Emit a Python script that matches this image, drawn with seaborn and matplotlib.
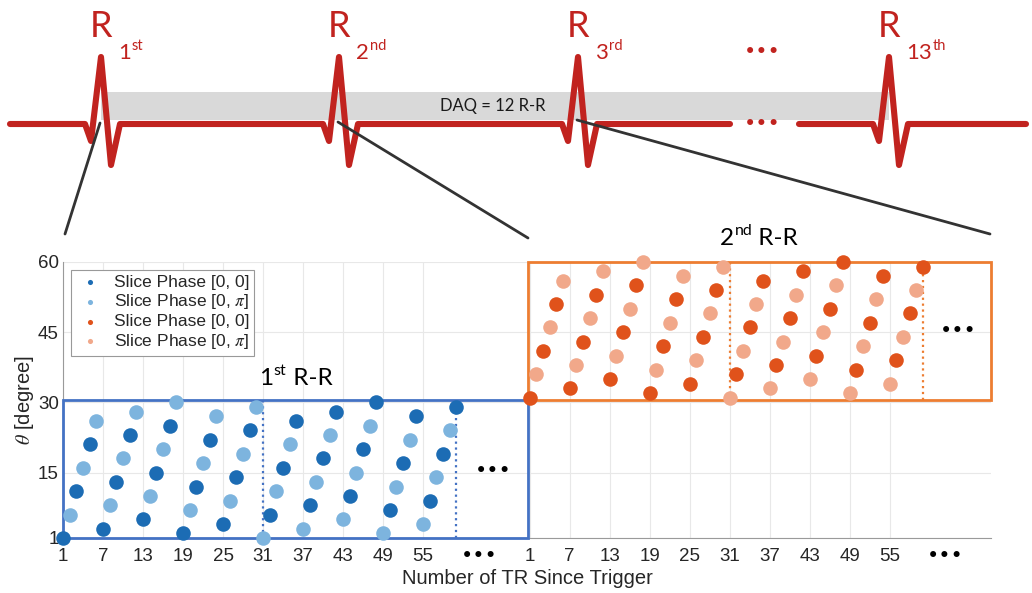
import numpy as np
import pandas as pd
import matplotlib
matplotlib.use("Agg")
import matplotlib.pyplot as plt
import seaborn as sns
from matplotlib.patches import Rectangle

# ---- data ----
tr_index = list(range(1, 61))
# slice angle theta (degree) for each TR in the 1st R-R
theta_1st = [1, 6, 11, 16, 21, 26, 3, 8, 13, 18, 23, 28, 5, 10, 15, 20, 25, 30,
             2, 7, 12, 17, 22, 27, 4, 9, 14, 19, 24, 29,
             1, 6, 11, 16, 21, 26, 3, 8, 13, 18, 23, 28, 5, 10, 15, 20, 25, 30,
             2, 7, 12, 17, 22, 27, 4, 9, 14, 19, 24, 29]
# slice angle for each TR in the 2nd R-R
theta_2nd = [31, 36, 41, 46, 51, 56, 33, 38, 43, 48, 53, 58, 35, 40, 45, 50, 55, 60,
             32, 37, 42, 47, 52, 57, 34, 39, 44, 49, 54, 59,
             31, 36, 41, 46, 51, 56, 33, 38, 43, 48, 53, 58, 35, 40, 45, 50, 55, 60,
             32, 37, 42, 47, 52, 57, 34, 39, 44, 49, 54, 59]
# 0 = slice phase [0, 0], 1 = slice phase [0, pi]
phase = [0, 1, 0, 1, 0, 1, 0, 1, 0, 1, 0, 1, 0, 1, 0, 1, 0, 1, 0, 1, 0, 1, 0, 1, 0, 1, 0, 1, 0, 1,
         1, 0, 1, 0, 1, 0, 1, 0, 1, 0, 1, 0, 1, 0, 1, 0, 1, 0, 1, 0, 1, 0, 1, 0, 1, 0, 1, 0, 1, 0]
rr_start = [0, 70]           # where each R-R begins on the shared TR axis
tick_trs = [1, 7, 13, 19, 25, 31, 37, 43, 49, 55]
tick_labels = ["1", "7", "13", "19", "25", "31", "37", "43", "49", "55"]
segment_trs = [31, 60]       # dotted separators inside each R-R
y_ticks = [1, 15, 30, 45, 60]
legend_labels = ["Slice Phase [0, 0]", r"Slice Phase [0, $\pi$]",
                 "Slice Phase [0, 0]", r"Slice Phase [0, $\pi$]"]

# ECG schematic
r_peak_x = [101, 339, 578, 889]
r_numbers = ["1", "2", "3", "13"]
r_suffix = ["st", "nd", "rd", "th"]

dark_blue, light_blue = "#1c6cb4", "#7db4de"
dark_orange, light_orange = "#e0521b", "#f1a88a"
box_blue, box_orange = "#4472c4", "#ed7d31"
ecg_red = "#c1231f"

sns.set_style("white")
plt.rcParams["font.family"] = ["Liberation Sans", "DejaVu Sans"]
plt.rcParams["mathtext.fontset"] = "stix"

rows = []
for block, thetas in zip(rr_start, [theta_1st, theta_2nd]):
    for t, th, p in zip(tr_index, thetas, phase):
        rows.append({"pos": block + t, "theta": th, "series": f"{block}_{p}"})
df = pd.DataFrame(rows)

fig = plt.figure(figsize=(10.32, 5.93), dpi=100)
deco = fig.add_axes([0, 0, 1, 1], zorder=0)
deco.set_xlim(0, 1032)
deco.set_ylim(593, 0)
deco.axis("off")

ax = fig.add_axes([63 / 1032, 55 / 593, 928 / 1032, 276 / 593], zorder=1)
ax.patch.set_alpha(0)

series = [(f"{rr_start[0]}_0", dark_blue), (f"{rr_start[0]}_1", light_blue),
          (f"{rr_start[1]}_0", dark_orange), (f"{rr_start[1]}_1", light_orange)]
for (key, color), label in zip(series, legend_labels):
    sns.scatterplot(data=df[df["series"] == key], x="pos", y="theta", color=color,
                    s=110, linewidth=0, label=label, clip_on=False, zorder=5, ax=ax)

x_max = 140.2
split = 70.7
ax.set_xlim(1, x_max)
ax.set_ylim(1, 60)

# R-R boxes and dotted separators
ax.add_patch(Rectangle((1, 1), split - 1, 29.5, fill=False, ec=box_blue, lw=2,
                       clip_on=False, zorder=4))
ax.add_patch(Rectangle((split, 30.5), x_max - split, 29.5, fill=False, ec=box_orange,
                       lw=2, clip_on=False, zorder=4))
ax.vlines([rr_start[0] + s for s in segment_trs], 1, 30.5, colors=box_blue,
          linestyles=":", lw=1.6, zorder=3)
ax.vlines([rr_start[1] + s for s in segment_trs], 30.5, 60, colors=box_orange,
          linestyles=":", lw=1.6, zorder=3)

# axes styling (MATLAB-like)
xt = [rr_start[0] + t for t in tick_trs] + [rr_start[1] + t for t in tick_trs]
ax.set_xticks(xt)
ax.set_xticklabels(tick_labels + tick_labels)
ax.set_yticks(y_ticks)
ax.tick_params(direction="in", length=4, color="#8c8c8c", labelsize=13.5)
ax.tick_params(axis="x", pad=7)
ax.tick_params(axis="y", pad=3)
ax.grid(True, color="#e8e8e8", lw=0.8)
ax.set_axisbelow(True)
for side in ["top", "right"]:
    ax.spines[side].set_visible(False)
for side in ["left", "bottom"]:
    ax.spines[side].set_color("#9a9a9a")
ax.set_xlabel("Number of TR Since Trigger", fontsize=14.5, labelpad=3)
ax.set_ylabel(r"$\theta$ [degree]", fontsize=14.5, labelpad=1)

leg = ax.legend(loc="upper left", bbox_to_anchor=(0.009, 0.972), markerscale=0.35,
                fontsize=12.5, frameon=True, fancybox=False, edgecolor="#999999",
                framealpha=1, borderpad=0.28, labelspacing=0.15, handlelength=1.6,
                handletextpad=0.55, borderaxespad=0)
leg.get_frame().set_linewidth(0.8)

# ellipses inside boxes and under the axis
dots = dict(fontsize=15, ha="center", va="center", family="DejaVu Sans", color="black")
ax.text(65.5, 15.4, "•••", **dots)
ax.text(135.3, 45.3, "•••", **dots)
under = ax.get_xaxis_transform()
ax.text(63.4, -0.066, "•••", transform=under, clip_on=False, **dots)
ax.text(133.4, -0.066, "•••", transform=under, clip_on=False, **dots)


def sup_label(a, x, y, base, sup, rest, size, color, **kw):
    t1 = a.text(x, y, base, fontsize=size, color=color, family="Lato",
                ha="left", va="baseline", **kw)
    t2 = a.annotate(sup, xy=(1, 0.52), xycoords=t1, xytext=(0.5, 0),
                    textcoords="offset points", fontsize=size * 0.66, color=color,
                    family="Lato", ha="left", va="bottom", annotation_clip=False)
    if rest:
        a.annotate(rest, xy=(1, 0), xycoords=(t2, t1), fontsize=size, color=color,
                   family="Lato", ha="left", va="bottom", annotation_clip=False)


sup_label(ax, 30.4, 33.7, "1", "st", " R-R", 17.5, "black")
sup_label(ax, 99.5, 63.6, "2", "nd", " R-R", 17.5, "black", clip_on=False)

# ---- ECG schematic on top ----
base_y = 124
qrs_dx = [-16, -10, 0, 10, 19]
qrs_dy = [0, 17, -67, 41, 0]
deco.add_patch(Rectangle((r_peak_x[0], 92), r_peak_x[-1] - r_peak_x[0], 28,
                         color="#d9d9d9", lw=0, zorder=1))


def qrs(px):
    return [px + d for d in qrs_dx], [base_y + d for d in qrs_dy]


xs, ys = [10], [base_y]
for px in r_peak_x[:3]:
    qx, qy = qrs(px)
    xs += qx
    ys += qy
xs += [730]
ys += [base_y]
deco.plot(xs, ys, color=ecg_red, lw=4.4, solid_capstyle="round",
          solid_joinstyle="round", zorder=2)
qx, qy = qrs(r_peak_x[3])
deco.plot([799] + qx + [1026], [base_y] + qy + [base_y], color=ecg_red, lw=4.4,
          solid_capstyle="round", solid_joinstyle="round", zorder=2)
deco.text(762, base_y, "•••", fontsize=15, ha="center", va="center",
          family="DejaVu Sans", color=ecg_red)
deco.text(762, 52, "•••", fontsize=15, ha="center", va="center",
          family="DejaVu Sans", color=ecg_red)

for px, num, suf in zip(r_peak_x, r_numbers, r_suffix):
    deco.text(px, 37, "R", fontsize=26, color=ecg_red, family="Lato",
              ha="center", va="baseline")
    sup_label(deco, px + 17, 59, num, suf, "", 16, ecg_red)

deco.text(493, 106, "DAQ = 12 R-R", fontsize=12, family="Lato", ha="center",
          va="center", color="#1a1a1a", zorder=3)

# zoom lines from the ECG to the R-R blocks
for (x0, y0), (x1, y1) in [((100, 123), (65, 234)), ((338, 122), (528, 238)),
                           ((577, 120), (990, 234))]:
    deco.plot([x0, x1], [y0, y1], color="#333333", lw=2, solid_capstyle="round",
              zorder=3)

fig.savefig("out.png", dpi=100)
